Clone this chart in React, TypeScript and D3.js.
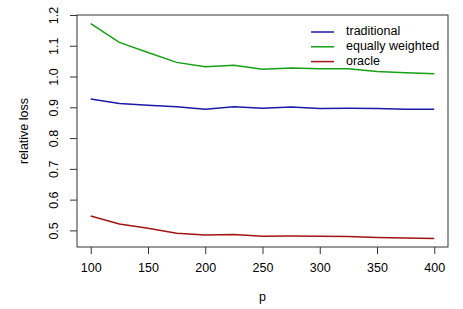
import React, { useEffect, useRef } from "react";
import * as d3 from "d3";

const pValues = [100, 125, 150, 175, 200, 225, 250, 275, 300, 325, 350, 375, 400];
const traditional = [0.927, 0.912, 0.907, 0.902, 0.894, 0.902, 0.897, 0.901, 0.896, 0.897, 0.896, 0.894, 0.894];
const equallyWeighted = [1.172, 1.111, 1.078, 1.046, 1.032, 1.037, 1.024, 1.028, 1.025, 1.025, 1.016, 1.012, 1.009];
const oracle = [0.547, 0.521, 0.507, 0.491, 0.485, 0.487, 0.481, 0.482, 0.481, 0.480, 0.477, 0.475, 0.474];

const xTicks = [100, 150, 200, 250, 300, 350, 400];
const yTicks = [0.5, 0.6, 0.7, 0.8, 0.9, 1.0, 1.1, 1.2];

const seriesNames = ["traditional", "equally weighted", "oracle"];
const seriesColors = ["#1a1aa6", "#16a016", "#a01414"];

const App: React.FC = () => {
  const svgRef = useRef<SVGSVGElement | null>(null);

  useEffect(() => {
    if (!svgRef.current) return;
    const width = 463;
    const height = 309;
    const margin = { top: 15, right: 15, bottom: 62, left: 77 };
    const font = "'Liberation Sans', Arial, sans-serif";

    const svg = d3.select(svgRef.current);
    svg.selectAll("*").remove();

    const series = [traditional, equallyWeighted, oracle];

    // R style 4% extension of the data range
    const [x0, x1] = d3.extent(pValues) as [number, number];
    const xPad = (x1 - x0) * 0.04;
    const all = series.flat();
    const y0 = d3.min(all)!;
    const y1 = d3.max(all)!;
    const yPad = (y1 - y0) * 0.04;

    const x = d3.scaleLinear()
      .domain([x0 - xPad, x1 + xPad])
      .range([margin.left, width - margin.right]);
    const y = d3.scaleLinear()
      .domain([y0 - yPad, y1 + yPad])
      .range([height - margin.bottom, margin.top]);

    const line = d3.line<number>()
      .x((_, i) => x(pValues[i]))
      .y(d => y(d));

    series.forEach((s, i) => {
      svg.append("path")
        .datum(s)
        .attr("d", line)
        .attr("fill", "none")
        .attr("stroke", seriesColors[i])
        .attr("stroke-width", 1.5);
    });

    // box
    svg.append("rect")
      .attr("x", margin.left)
      .attr("y", margin.top)
      .attr("width", width - margin.left - margin.right)
      .attr("height", height - margin.top - margin.bottom)
      .attr("fill", "none")
      .attr("stroke", "#333")
      .attr("stroke-width", 1);

    // x axis
    const xAxis = svg.append("g")
      .attr("transform", `translate(0,${height - margin.bottom})`)
      .call(d3.axisBottom(x).tickValues(xTicks).tickSize(7).tickPadding(9).tickSizeOuter(0));
    xAxis.select(".domain").remove();
    xAxis.selectAll("line").attr("stroke", "#333");
    xAxis.selectAll("text")
      .style("font-family", font)
      .style("font-size", "12.5px")
      .attr("fill", "#000");

    // y axis with rotated labels
    const yAxis = svg.append("g")
      .attr("transform", `translate(${margin.left},0)`)
      .call(d3.axisLeft(y).tickValues(yTicks).tickSize(7).tickFormat(d3.format(".1f")));
    yAxis.select(".domain").remove();
    yAxis.selectAll("line").attr("stroke", "#333");
    yAxis.selectAll("text")
      .attr("x", 0)
      .attr("dy", 0)
      .attr("transform", "translate(-22,0) rotate(-90)")
      .attr("text-anchor", "middle")
      .attr("dominant-baseline", "middle")
      .style("font-family", font)
      .style("font-size", "12.5px")
      .attr("fill", "#000");

    // axis titles
    svg.append("text")
      .attr("x", (margin.left + width - margin.right) / 2)
      .attr("y", 301)
      .attr("text-anchor", "middle")
      .style("font-family", font)
      .style("font-size", "12.5px")
      .text("p");

    svg.append("text")
      .attr("transform", `translate(28,${(margin.top + height - margin.bottom) / 2}) rotate(-90)`)
      .attr("text-anchor", "middle")
      .style("font-family", font)
      .style("font-size", "12.5px")
      .text("relative loss");

    // legend
    const legend = svg.append("g").attr("transform", "translate(311,32)");
    seriesNames.forEach((name, i) => {
      const row = legend.append("g").attr("transform", `translate(0,${i * 14.8})`);
      row.append("line")
        .attr("x1", 0)
        .attr("x2", 23)
        .attr("stroke", seriesColors[i])
        .attr("stroke-width", 1.5);
      row.append("text")
        .attr("x", 35)
        .attr("dominant-baseline", "middle")
        .style("font-family", font)
        .style("font-size", "12.5px")
        .text(name);
    });
  }, []);

  return (
    <svg
      ref={svgRef}
      width={463}
      height={309}
      style={{ position: "absolute", left: 0, top: 0, background: "#fff" }}
    />
  );
};

export default App;
